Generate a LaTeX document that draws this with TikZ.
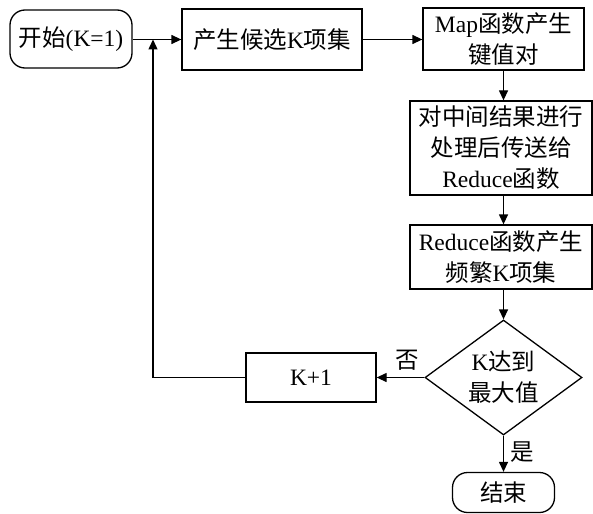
\documentclass[tikz,border=0pt]{standalone}
\usepackage{fontspec}
\setmainfont{Liberation Serif}
\newfontfamily\cjk{Noto Sans CJK SC}
\usetikzlibrary{arrows.meta,shapes.geometric}
\begin{document}
\begin{tikzpicture}[x=1pt,y=-1pt,
  every node/.style={font=\fontsize{23.5}{31}\selectfont, align=center, inner sep=0pt},
  box/.style={draw, line width=1.3pt, rectangle},
  rbox/.style={draw, line width=1.3pt, rectangle, rounded corners=15pt},
  dia/.style={draw, line width=1.3pt, diamond, aspect=1.365},
  arr/.style={line width=1.3pt, -{Triangle[length=10pt,width=9pt]}},
  ln/.style={line width=1.3pt}]
\useasboundingbox (0,0) rectangle (593,513);
\node[rbox, minimum width=122pt, minimum height=58pt] (start) at (71,39) {{\cjk 开始}(K=1)};
\node[box, minimum width=180pt, minimum height=61pt] (b2) at (272,39.5) {{\cjk 产生候选}K{\cjk 项集}};
\node[box, minimum width=161pt, minimum height=62pt] (b3) at (503.5,39) {Map{\cjk 函数产生}\\{\cjk 键值对}};
\node[box, minimum width=182pt, minimum height=94pt] (b4) at (501,148) {{\cjk 对中间结果进行}\\{\cjk 处理后传送给}\\Reduce{\cjk 函数}};
\node[box, minimum width=182pt, minimum height=64pt] (b5) at (501,257) {Reduce{\cjk 函数产生}\\{\cjk 频繁}K{\cjk 项集}};
\node[dia, minimum width=157pt, minimum height=115pt] (d) at (503.5,377.5) {K{\cjk 达到}\\{\cjk 最大值}};
\node[box, minimum width=130pt, minimum height=49pt] (kp) at (311,377.5) {K+1};
\node[rbox, minimum width=102pt, minimum height=40pt] (end) at (503.5,492.5) {{\cjk 结束}};
\coordinate (j) at (153,39.5);
\draw[arr] (start.east |- b2.west) -- (b2.west);
\draw[arr] (b2.east) -- (b3.west |- b2.east);
\draw[arr] (b3.south) -- (b3.south |- b4.north);
\draw[arr] (b3.south |- b4.south) -- (b3.south |- b5.north);
\draw[arr] (b3.south |- b5.south) -- (d.north);
\draw[arr] (d.south) -- (end.north) node[pos=0.45, right=6pt] {{\cjk 是}};
\draw[arr] (d.west) -- (kp.east) node[pos=0.35, above=6pt] {{\cjk 否}};
\draw[arr] (kp.west) -| (j);
\end{tikzpicture}
\end{document}
